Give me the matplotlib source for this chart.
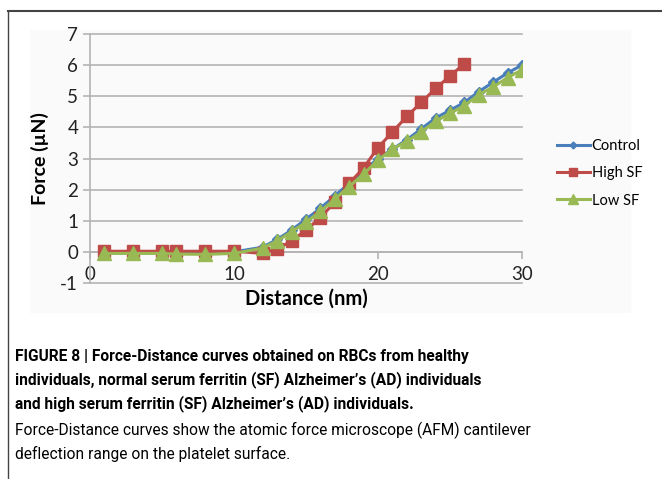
import numpy as np
import matplotlib.pyplot as plt
from matplotlib.lines import Line2D

# data
distance = [1, 3, 5, 6, 8, 10, 12, 13, 14, 15, 16, 17, 18, 19, 20,
            21, 22, 23, 24, 25, 26, 27, 28, 29, 30]
control = [0.0, 0.0, 0.0, -0.05, -0.05, 0.0, 0.15, 0.4, 0.7, 1.05, 1.4, 1.8,
           2.2, 2.6, 3.0, 3.3, 3.6, 3.95, 4.3, 4.55, 4.8, 5.15, 5.45, 5.75, 6.0]
distance_high = [1, 3, 5, 6, 8, 10, 12, 13, 14, 15, 16, 17, 18, 19, 20,
                 21, 22, 23, 24, 25, 26]
high_sf = [0.02, 0.02, 0.02, 0.02, 0.02, 0.02, -0.05, 0.1, 0.35, 0.7, 1.1,
           1.6, 2.2, 2.7, 3.35, 3.85, 4.35, 4.8, 5.25, 5.65, 6.05]
low_sf = [-0.05, -0.05, -0.05, -0.07, -0.08, -0.05, 0.12, 0.35, 0.65, 0.95,
          1.3, 1.7, 2.1, 2.5, 2.95, 3.3, 3.55, 3.85, 4.2, 4.45, 4.7, 5.05,
          5.3, 5.6, 5.85]

labels = ["Control", "High SF", "Low SF"]
colors = ["#4a7ebb", "#be4b48", "#98b954"]

caption_bold = ("FIGURE 8 | Force-Distance curves obtained on RBCs from healthy\n"
                "individuals, normal serum ferritin (SF) Alzheimer\u2019s (AD) individuals\n"
                "and high serum ferritin (SF) Alzheimer\u2019s (AD) individuals.")
caption_text = ("Force-Distance curves show the atomic force microscope (AFM) cantilever\n"
                "deflection range on the platelet surface.")

plt.rcParams["font.family"] = ["Lato", "DejaVu Sans"]
plt.rcParams["axes.unicode_minus"] = False

fig = plt.figure(figsize=(6.62, 4.79), dpi=100)
W, H = 662, 479

# frame lines (top and left) and light chart background
fig.add_artist(Line2D([8 / W, 1], [1 - 11 / H, 1 - 11 / H], color="#444444", lw=1.5))
fig.add_artist(Line2D([8 / W, 8 / W], [0, 1 - 11 / H], color="#444444", lw=1.0))
fig.patches.append(plt.Rectangle((30 / W, 1 - 312 / H), 600 / W, 282 / H,
                                 transform=fig.transFigure, color="#fafafa", zorder=-5))

ax = fig.add_axes([90 / W, 1 - 283 / H, 432 / W, 249 / H])
ax.set_facecolor("none")
ax.set_zorder(2)

ax.plot(distance, control, color=colors[0], marker="D", markersize=5, lw=2.2, label=labels[0])
ax.plot(distance_high, high_sf, color=colors[1], marker="s", markersize=9, lw=2.2, label=labels[1])
ax.plot(distance, low_sf, color=colors[2], marker="^", markersize=9.5, lw=2.2, label=labels[2])

ax.set_xlim(0, 30)
ax.set_ylim(-1, 7)
ax.set_xticks([0, 10, 20, 30])
ax.set_yticks(range(-1, 8))
for y in range(-1, 8):
    ax.axhline(y, color="#b4b4b4", lw=1.2, zorder=0, clip_on=False)

for s in ["top", "right"]:
    ax.spines[s].set_visible(False)
ax.spines["left"].set_color("#b4b4b4")
ax.spines["left"].set_linewidth(1.2)
ax.spines["bottom"].set_position(("data", 0))
ax.spines["bottom"].set_color("#b4b4b4")
ax.spines["bottom"].set_linewidth(1.2)
ax.spines["bottom"].set_zorder(0)
ax.tick_params(axis="both", colors="#b4b4b4", labelcolor="#222222", labelsize=13.5, length=5, width=1.2)
ax.tick_params(axis="x", pad=5)

ax.set_xlabel("Distance (nm)", fontsize=14.5, fontweight="bold", labelpad=4)
ax.set_ylabel("Force (\u00b5N)", fontsize=14, fontweight="bold", labelpad=8)

ax.legend(loc="center left", bbox_to_anchor=(1.05, 0.44), frameon=False, fontsize=10.5,
          handlelength=2.3, handletextpad=0.1, labelspacing=0.9, markerscale=0.7)

fig.text(15 / W, 1 - 349 / H, caption_bold, fontsize=11.2, fontweight="bold",
         family=["Roboto", "DejaVu Sans"], va="top", linespacing=1.55)
fig.text(15 / W, 1 - 422 / H, caption_text, fontsize=11.2,
         family=["Roboto", "DejaVu Sans"], va="top", linespacing=1.55)

fig.savefig("out.png", dpi=100)
